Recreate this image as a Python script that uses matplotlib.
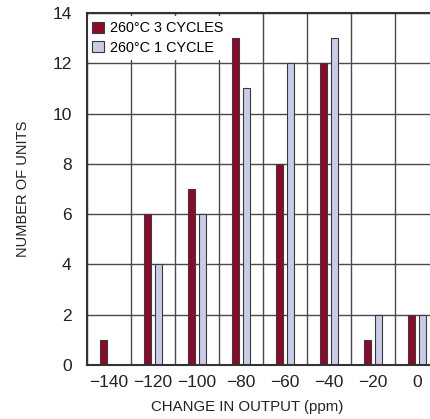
import matplotlib
matplotlib.use("Agg")
import matplotlib.pyplot as plt
import numpy as np

plt.rcParams['font.family'] = ['Liberation Sans', 'DejaVu Sans']

change_ppm = [-140, -120, -100, -80, -60, -40, -20, 0]
three_cycles = [1, 6, 7, 13, 8, 12, 1, 2]
one_cycle = [0, 4, 6, 11, 12, 13, 2, 2]
tick_labels = ['\u2212140', '\u2212120', '\u2212100', '\u221280', '\u221260', '\u221240', '\u221220', '0']
label_3 = '260°C 3 CYCLES'
label_1 = '260°C 1 CYCLE'

red = '#8A0A2C'
lav = '#C9CCE7'
edge = '#3a3a3a'

fig = plt.figure(figsize=(4.31, 4.19), dpi=100)
ax = fig.add_axes([87/431, 54/419, 352/431, 352/419])

x = np.array(change_ppm, dtype=float)
w = 3.5
off = 2.5
ax.bar(x - off, three_cycles, width=w, color=red, edgecolor=edge, linewidth=0.8, zorder=6, label=label_3)
ax.bar(x + off, one_cycle, width=w, color=lav, edgecolor=edge, linewidth=0.8, zorder=6, label=label_1)

ax.set_xlim(-150, 10)
ax.set_ylim(0, 14)
ax.set_xticks(change_ppm)
ax.set_xticklabels(tick_labels)
ax.set_xticks(np.arange(-150, 11, 20), minor=True)
ax.set_yticks(np.arange(0, 15, 2))
ax.grid(False)
ax.grid(True, which='minor', axis='x', color='#4a4a4a', linewidth=1.0, zorder=1)
ax.grid(True, which='major', axis='y', color='#4a4a4a', linewidth=1.0, zorder=1)
ax.tick_params(axis='both', which='both', length=0, labelsize=12.5, colors='#222222')
ax.tick_params(axis='y', pad=11)
ax.tick_params(axis='x', pad=7)
for s in ax.spines.values():
    s.set_color('#333333')
    s.set_linewidth(1.5)
    s.set_zorder(7)

ax.set_xlabel('CHANGE IN OUTPUT (ppm)', fontsize=10.8, color='#222222', labelpad=7)
ax.xaxis.set_label_coords(160/352, -0.1)
ax.xaxis.label.set_va('top')
ax.set_ylabel('NUMBER OF UNITS', fontsize=10.5, color='#222222', labelpad=16)

leg = ax.legend(loc='upper left', bbox_to_anchor=(0, 1 - 3/352), fontsize=10.4, frameon=True, fancybox=False,
                borderaxespad=0.0, handlelength=0.8, handleheight=0.8, handletextpad=0.45,
                labelspacing=0.4, borderpad=0.35)
leg.get_frame().set_facecolor('white')
leg.get_frame().set_edgecolor('none')
leg.get_frame().set_alpha(1)
leg.set_zorder(5)

fig.savefig('out.png', dpi=100)
